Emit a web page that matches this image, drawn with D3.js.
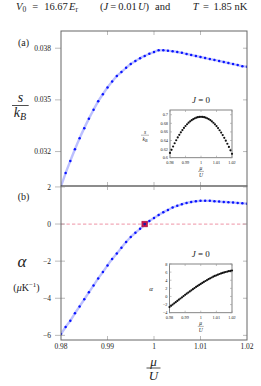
<!DOCTYPE html>
<html>
<head>
<meta charset="utf-8">
<script src="https://cdn.jsdelivr.net/npm/d3@7"></script>
<style>
  body { margin: 0; background: #fff; }
  svg text { font-family: "Liberation Serif", "DejaVu Serif", serif; fill: #222; }
</style>
</head>
<body>
<div id="chart"></div>
<script>
// chemical potential grid (mu / U)
var mu = d3.range(41).map(function(i) { return +(0.98 + i * 0.001).toFixed(3); });

// panel (a): entropy per particle s/kB, J = 0.01 U
var entropy = [0.02998, 0.03075, 0.03145, 0.03213, 0.03277, 0.03336, 0.03391, 0.03443, 0.03492, 0.03533,
  0.03572, 0.03607, 0.03638, 0.03662, 0.03686, 0.03708, 0.03726, 0.03742, 0.03755, 0.03768,
  0.03778, 0.03788, 0.03788, 0.03786, 0.03782, 0.03778, 0.03773, 0.03767, 0.03761, 0.03755,
  0.03749, 0.03743, 0.03737, 0.03732, 0.03726, 0.03720, 0.03714, 0.03708, 0.03702, 0.03696, 0.03692];

// panel (b): alpha in muK^-1
var alpha = [-5.93, -5.55, -5.21, -4.81, -4.44, -4.06, -3.68, -3.31, -2.93, -2.59,
  -2.23, -1.89, -1.59, -1.28, -0.97, -0.70, -0.47, -0.26, -0.04, 0.16,
  0.33, 0.49, 0.64, 0.76, 0.89, 0.98, 1.07, 1.14, 1.19, 1.23,
  1.25, 1.25, 1.25, 1.23, 1.21, 1.19, 1.18, 1.16, 1.14, 1.12, 1.10];

// insets, J = 0
var entropyJ0 = [0.611, 0.6183, 0.6261, 0.6336, 0.6406, 0.6472, 0.6533, 0.6591, 0.6644, 0.6693,
  0.6738, 0.6778, 0.6814, 0.6846, 0.6874, 0.6897, 0.6916, 0.6931, 0.6942, 0.6948,
  0.6951, 0.6949, 0.6943, 0.6932, 0.6917, 0.6898, 0.6875, 0.6846, 0.6813, 0.6776,
  0.6735, 0.6689, 0.6639, 0.6585, 0.6526, 0.6463, 0.6396, 0.6325, 0.6250, 0.6171, 0.609];
var alphaJ0 = [-2.6, -2.3, -2.0, -1.7, -1.4, -1.1, -0.8, -0.5, -0.2, 0.1,
  0.4, 0.68, 0.96, 1.24, 1.52, 1.8, 2.07, 2.34, 2.6, 2.85,
  3.1, 3.34, 3.58, 3.81, 4.04, 4.26, 4.47, 4.67, 4.87, 5.05,
  5.22, 5.38, 5.53, 5.67, 5.8, 5.92, 6.03, 6.13, 6.22, 6.3, 6.4];

var crossMu = 0.998;   // where alpha changes sign

var xTicks = [0.98, 0.99, 1, 1.01, 1.02];
var yTicksA = [0.032, 0.035, 0.038];
var yTicksB = [-6, -4, -2, 0, 2];
var yTicksInsetA = [0.6, 0.62, 0.64, 0.66, 0.68, 0.7];
var yTicksInsetB = [-4, -2, 0, 2, 4, 6, 8];

var W = 261, H = 386;
var svg = d3.select("#chart").append("svg")
    .attr("width", W).attr("height", H)
    .attr("font-family", "'Liberation Serif', 'DejaVu Serif', serif");

var x = d3.scaleLinear().domain([0.98, 1.02]).range([61, 247]);
var yA = d3.scaleLinear().domain([0.030, 0.039]).range([186, 31]);
var yB = d3.scaleLinear().domain([-6.25, 2.05]).range([340, 186]);

function fmt(d) { return d3.format("")(d).replace("-", "\u2212"); }

var defs = svg.append("defs");
defs.append("clipPath").attr("id", "clipA").append("rect")
    .attr("x", 61).attr("y", 31).attr("width", 186).attr("height", 155);
defs.append("clipPath").attr("id", "clipB").append("rect")
    .attr("x", 61).attr("y", 186).attr("width", 186).attr("height", 154);

function panel(y, yTicks, clip, values, leftInside) {
  var g = svg.append("g");
  var x0 = x.range()[0], x1 = x.range()[1];
  var yr = y.range();
  yTicks.forEach(function(t) {
    g.append("line").attr("x1", x0 - 6).attr("x2", x0 + (leftInside ? 4 : 0))
      .attr("y1", y(t)).attr("y2", y(t)).attr("stroke", "#aaa").attr("stroke-width", 0.8);
    g.append("line").attr("x1", x1 - 4).attr("x2", x1)
      .attr("y1", y(t)).attr("y2", y(t)).attr("stroke", "#aaa").attr("stroke-width", 0.8);
    g.append("text").attr("x", x0 - 10).attr("y", y(t) + 2.6)
      .attr("text-anchor", "end").attr("font-size", 7.5).text(fmt(t));
  });
  xTicks.slice(1, -1).forEach(function(t) {
    g.append("line").attr("x1", x(t)).attr("x2", x(t))
      .attr("y1", yr[1]).attr("y2", yr[1] + 4).attr("stroke", "#aaa").attr("stroke-width", 0.8);
    g.append("line").attr("x1", x(t)).attr("x2", x(t))
      .attr("y1", yr[0]).attr("y2", yr[0] - 4).attr("stroke", "#aaa").attr("stroke-width", 0.8);
  });

  var plot = g.append("g").attr("clip-path", "url(#" + clip + ")");
  var line = d3.line().x(function(d, i) { return x(mu[i]); }).y(function(d) { return y(d); })
      .curve(d3.curveMonotoneX);
  plot.append("path").datum(values).attr("d", line)
      .attr("fill", "none").attr("stroke", "#bcc0ff").attr("stroke-width", 2.4);
  plot.selectAll("circle").data(values).enter().append("circle")
      .attr("cx", function(d, i) { return x(mu[i]); })
      .attr("cy", function(d) { return y(d); })
      .attr("r", 1.25).attr("fill", "#0a14ff");

  g.append("rect").attr("x", x0).attr("y", yr[1]).attr("width", x1 - x0).attr("height", yr[0] - yr[1])
      .attr("fill", "none").attr("stroke", "#666").attr("stroke-width", 1);
  return g;
}

panel(yA, yTicksA, "clipA", entropy, false);

// dashed zero line under the alpha curve
svg.append("line").attr("x1", x(0.98)).attr("x2", x(1.02))
    .attr("y1", yB(0)).attr("y2", yB(0))
    .attr("stroke", "#f2a9b8").attr("stroke-width", 1.2).attr("stroke-dasharray", "3.3,2.2");

var gB = panel(yB, yTicksB, "clipB", alpha, true);

// zero crossing marker
gB.append("rect").attr("x", x(crossMu) - 2.8).attr("y", yB(0) - 2.8)
    .attr("width", 5.6).attr("height", 5.6)
    .attr("fill", "#d0164f").attr("stroke", "#a01040").attr("stroke-width", 0.6);
gB.append("circle").attr("cx", x(crossMu)).attr("cy", yB(0)).attr("r", 1.4).attr("fill", "#1a1aa0");

xTicks.forEach(function(t) {
  svg.append("text").attr("x", x(t)).attr("y", 349)
    .attr("text-anchor", "middle").attr("font-size", 7.5).text(fmt(t));
});

// insets
function inset(opts) {
  var xi = d3.scaleLinear().domain([0.98, 1.02]).range([opts.left, opts.right]);
  var yi = d3.scaleLinear().domain(opts.domain).range([opts.bottom, opts.top]);
  var g = svg.append("g");
  g.append("rect").attr("x", opts.left).attr("y", opts.top)
    .attr("width", opts.right - opts.left).attr("height", opts.bottom - opts.top)
    .attr("fill", "#fff").attr("stroke", "#777").attr("stroke-width", 0.9);
  opts.yTicks.forEach(function(t) {
    g.append("line").attr("x1", opts.left).attr("x2", opts.left + 2)
      .attr("y1", yi(t)).attr("y2", yi(t)).attr("stroke", "#999").attr("stroke-width", 0.6);
    g.append("line").attr("x1", opts.right - 2).attr("x2", opts.right)
      .attr("y1", yi(t)).attr("y2", yi(t)).attr("stroke", "#999").attr("stroke-width", 0.6);
    g.append("text").attr("x", opts.left - 2).attr("y", yi(t) + 1.5)
      .attr("text-anchor", "end").attr("font-size", 4.3).text(fmt(t));
  });
  xTicks.forEach(function(t) {
    g.append("line").attr("x1", xi(t)).attr("x2", xi(t))
      .attr("y1", opts.bottom).attr("y2", opts.bottom - 2).attr("stroke", "#999").attr("stroke-width", 0.6);
    g.append("line").attr("x1", xi(t)).attr("x2", xi(t))
      .attr("y1", opts.top).attr("y2", opts.top + 2).attr("stroke", "#999").attr("stroke-width", 0.6);
    g.append("text").attr("x", xi(t)).attr("y", opts.bottom + 6)
      .attr("text-anchor", "middle").attr("font-size", 4.3).text(fmt(t));
  });
  g.selectAll("circle.pt").data(opts.values).enter().append("circle")
    .attr("cx", function(d, i) { return xi(mu[i]); })
    .attr("cy", function(d) { return yi(d); })
    .attr("r", 1.1).attr("fill", "#111");

  var cx = (opts.left + opts.right) / 2;
  g.append("text").attr("x", cx).attr("y", opts.top - 7)
    .attr("text-anchor", "middle").attr("font-size", 9).attr("font-style", "italic")
    .html("J<tspan font-style='normal'> = 0</tspan>");
  var fy = opts.bottom + 12.5;
  g.append("text").attr("x", cx).attr("y", fy).attr("text-anchor", "middle")
    .attr("font-size", 5.5).attr("font-style", "italic").text("\u03bc");
  g.append("line").attr("x1", cx - 3).attr("x2", cx + 3).attr("y1", fy + 1.2).attr("y2", fy + 1.2)
    .attr("stroke", "#444").attr("stroke-width", 0.4);
  g.append("text").attr("x", cx).attr("y", fy + 6.5).attr("text-anchor", "middle")
    .attr("font-size", 5.5).attr("font-style", "italic").text("U");
  return g;
}

var insA = inset({left: 170, right: 232, top: 110, bottom: 157.7,
  domain: [0.6, 0.711], yTicks: yTicksInsetA, values: entropyJ0});
insA.append("text").attr("x", 145).attr("y", 134).attr("text-anchor", "middle")
  .attr("font-size", 5.5).attr("font-style", "italic").text("s");
insA.append("line").attr("x1", 141).attr("x2", 149).attr("y1", 135.2).attr("y2", 135.2)
  .attr("stroke", "#444").attr("stroke-width", 0.4);
insA.append("text").attr("x", 145).attr("y", 140.5).attr("text-anchor", "middle")
  .attr("font-size", 5.5).attr("font-style", "italic")
  .html("k<tspan font-size='4' dy='1'>B</tspan>");

var insB = inset({left: 169.5, right: 232, top: 264, bottom: 312.7,
  domain: [-4, 8], yTicks: yTicksInsetB, values: alphaJ0});
insB.append("text").attr("x", 151).attr("y", 291).attr("text-anchor", "middle")
  .attr("font-size", 7).attr("font-style", "italic").text("\u03b1");

// panel tags
svg.append("text").attr("x", 23.5).attr("y", 45.5).attr("text-anchor", "middle")
  .attr("font-size", 10).text("(a)");
svg.append("text").attr("x", 23.5).attr("y", 199.5).attr("text-anchor", "middle")
  .attr("font-size", 10).text("(b)");

// s/kB main label
svg.append("text").attr("x", 20.5).attr("y", 101.5).attr("text-anchor", "middle")
  .attr("font-size", 14).attr("font-style", "italic").text("s");
svg.append("line").attr("x1", 12).attr("x2", 28.7).attr("y1", 105.5).attr("y2", 105.5)
  .attr("stroke", "#222").attr("stroke-width", 0.8);
svg.append("text").attr("x", 20).attr("y", 117).attr("text-anchor", "middle")
  .attr("font-size", 14).attr("font-style", "italic")
  .html("k<tspan font-size='10' dy='2.5'>B</tspan>");

// alpha main label
svg.append("text").attr("x", 22).attr("y", 266.5).attr("text-anchor", "middle")
  .attr("font-size", 17).attr("font-style", "italic").text("\u03b1");
svg.append("text").attr("x", 26.5).attr("y", 291).attr("text-anchor", "middle")
  .attr("font-size", 10)
  .html("(<tspan font-style='italic'>\u03bc</tspan>K<tspan font-size='7' dy='-4'>\u22121</tspan><tspan dy='4'>)</tspan>");

// mu/U main x label
svg.append("text").attr("x", 153.5).attr("y", 365.5).attr("text-anchor", "middle")
  .attr("font-size", 13).attr("font-style", "italic").text("\u03bc");
svg.append("line").attr("x1", 146.5).attr("x2", 160.5).attr("y1", 368).attr("y2", 368)
  .attr("stroke", "#222").attr("stroke-width", 0.8);
svg.append("text").attr("x", 153.5).attr("y", 380).attr("text-anchor", "middle")
  .attr("font-size", 13).attr("font-style", "italic").text("U");

// title: token groups, gaps (math spacing) sized from the room each group has,
// but no wider than maxGap
var titleGroups = [
  {x0: 6, x1: 88, maxGap: 6, tokens: [
    {t: "V", it: true}, {t: "0", sub: true}, {t: "=", gap: 1}, {t: "16.67", gap: 1},
    {t: "E", it: true, gap: 0.2}, {t: "r", sub: true}]},
  {x0: 100, x1: 149, maxGap: 3, tokens: [
    {t: "("}, {t: "J", it: true}, {t: "=", gap: 1}, {t: "0.01", gap: 1},
    {t: "U", it: true, gap: 0.6}, {t: ")"}]},
  {x0: 155, x1: 170, maxGap: 0, tokens: [{t: "and"}]},
  {x0: 189, x1: 251, maxGap: 4.5, tokens: [
    {t: "T", it: true}, {t: "=", gap: 1}, {t: "1.85", gap: 1}, {t: "nK", gap: 0.6}]}
];
var titleG = svg.append("g");
titleGroups.forEach(function(grp) {
  var nodes = grp.tokens.map(function(d) {
    return titleG.append("text")
      .attr("y", d.sub ? 11.8 : 9.8)
      .attr("font-size", d.sub ? 7.5 : 10.5)
      .attr("font-style", d.it ? "italic" : "normal")
      .text(d.t);
  });
  var widths = nodes.map(function(n) { return n.node().getComputedTextLength(); });
  var gapSum = d3.sum(grp.tokens, function(d) { return d.gap || 0; });
  var spare = Math.max(0, (grp.x1 - grp.x0) - d3.sum(widths));
  var unit = gapSum > 0 ? Math.min(spare / gapSum, grp.maxGap) : 0;
  var used = d3.sum(widths) + unit * gapSum;
  var pos = grp.x0 + Math.max(0, (grp.x1 - grp.x0) - used) / 2;
  nodes.forEach(function(n, i) {
    pos += unit * (grp.tokens[i].gap || 0);
    n.attr("x", pos);
    pos += widths[i];
  });
});
</script>
</body>
</html>
